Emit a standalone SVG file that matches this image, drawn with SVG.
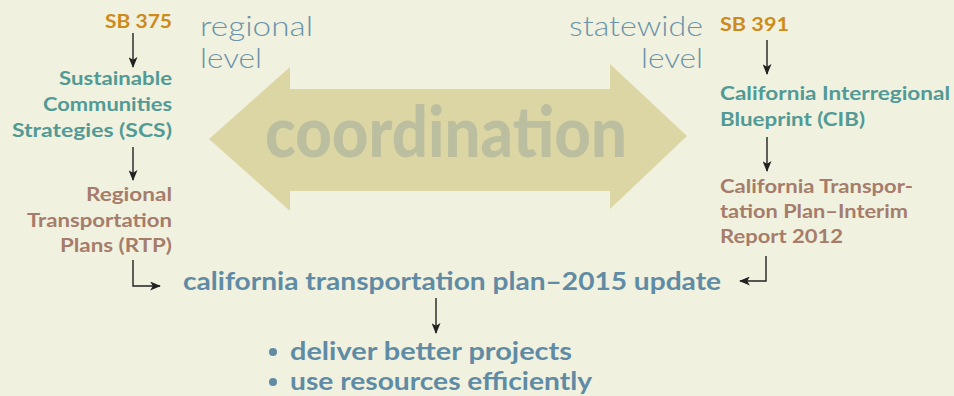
<svg xmlns="http://www.w3.org/2000/svg" width="954" height="396" viewBox="0 0 954 396">
<style>
.b{font-family:Lato,"Liberation Sans",sans-serif;font-weight:bold;font-size:19px}
.sb{fill:#CC8B1A}
.teal{fill:#519A95}
.brown{fill:#A67C6B}
.main{font-family:Lato,"Liberation Sans",sans-serif;font-weight:bold;font-size:25px;fill:#5F8BA5}
.lvl{font-family:Lato,"Liberation Sans",sans-serif;font-weight:300;font-size:28px;fill:#6B93AB}
.coord{font-family:Lato,"Liberation Sans",sans-serif;font-weight:900;font-size:70px;fill:#BBBF9F}
.c{fill:none;stroke:#222;stroke-width:1.4}
</style>
<defs>
<marker id="ah" viewBox="0 0 12 10" refX="11" refY="5" markerWidth="12" markerHeight="9" markerUnits="userSpaceOnUse" orient="auto">
<path d="M0,0 L12,5 L0,10 L3,5 z" fill="#222"/>
</marker>
</defs>
<rect width="954" height="396" fill="#F0F1DE"/>
<g id="coordination">
<polygon points="209,139 290,67 290,89 610,89 610,64 687,136 610,209 610,191 290,191 290,211" fill="#DCD6A4"/>
<text class="coord" x="265" y="157" textLength="362" lengthAdjust="spacingAndGlyphs">coordination</text>
</g>
<g id="regional-level">
<text class="lvl" x="200" y="36" textLength="113" lengthAdjust="spacingAndGlyphs">regional</text>
<text class="lvl" x="200" y="68" textLength="62" lengthAdjust="spacingAndGlyphs">level</text>
</g>
<g id="statewide-level">
<text class="lvl" x="703" y="36" text-anchor="end" textLength="134" lengthAdjust="spacingAndGlyphs">statewide</text>
<text class="lvl" x="703" y="68" text-anchor="end" textLength="62" lengthAdjust="spacingAndGlyphs">level</text>
</g>
<g id="sb375">
<text class="b sb" x="172" y="28" text-anchor="end" textLength="67" lengthAdjust="spacingAndGlyphs">SB 375</text>
</g>
<g id="scs">
<text class="b teal" x="172" y="85" text-anchor="end" textLength="113" lengthAdjust="spacingAndGlyphs">Sustainable</text>
<text class="b teal" x="172" y="111" text-anchor="end" textLength="129" lengthAdjust="spacingAndGlyphs">Communities</text>
<text class="b teal" x="172" y="137" text-anchor="end" textLength="160" lengthAdjust="spacingAndGlyphs">Strategies (SCS)</text>
</g>
<g id="rtp">
<text class="b brown" x="172" y="201" text-anchor="end" textLength="86" lengthAdjust="spacingAndGlyphs">Regional</text>
<text class="b brown" x="172" y="227" text-anchor="end" textLength="145" lengthAdjust="spacingAndGlyphs">Transportation</text>
<text class="b brown" x="172" y="252" text-anchor="end" textLength="112" lengthAdjust="spacingAndGlyphs">Plans (RTP)</text>
</g>
<g id="sb391">
<text class="b sb" x="720" y="31" textLength="69" lengthAdjust="spacingAndGlyphs">SB 391</text>
</g>
<g id="cib">
<text class="b teal" x="720" y="100" textLength="230" lengthAdjust="spacingAndGlyphs">California Interregional</text>
<text class="b teal" x="720" y="126" textLength="145" lengthAdjust="spacingAndGlyphs">Blueprint (CIB)</text>
</g>
<g id="ctp-interim">
<text class="b brown" x="720" y="193" textLength="193" lengthAdjust="spacingAndGlyphs">California Transpor-</text>
<text class="b brown" x="720" y="218" textLength="188" lengthAdjust="spacingAndGlyphs">tation Plan–Interim</text>
<text class="b brown" x="720" y="243" textLength="123" lengthAdjust="spacingAndGlyphs">Report 2012</text>
</g>
<g id="ctp2015">
<text class="main" x="183" y="290" textLength="538" lengthAdjust="spacingAndGlyphs">california transportation plan–2015 update</text>
</g>
<g id="outcomes">
<circle cx="273" cy="352" r="4" fill="#5F8BA5"/>
<text class="main" x="290" y="360" textLength="282" lengthAdjust="spacingAndGlyphs">deliver better projects</text>
<circle cx="273" cy="382" r="4" fill="#5F8BA5"/>
<text class="main" x="290" y="390" textLength="302" lengthAdjust="spacingAndGlyphs">use resources efficiently</text>
</g>
<g id="connectors">
<line class="c" x1="133" y1="33" x2="133" y2="67" marker-end="url(#ah)"/>
<line class="c" x1="133" y1="147" x2="133" y2="180" marker-end="url(#ah)"/>
<polyline class="c" points="133,260 133,286 160,286" marker-end="url(#ah)"/>
<line class="c" x1="767" y1="40" x2="767" y2="74" marker-end="url(#ah)"/>
<line class="c" x1="767" y1="137" x2="767" y2="171" marker-end="url(#ah)"/>
<polyline class="c" points="766,256 766,281 740,281" marker-end="url(#ah)"/>
<line class="c" x1="436" y1="298" x2="436" y2="333" marker-end="url(#ah)"/>
</g>
</svg>
